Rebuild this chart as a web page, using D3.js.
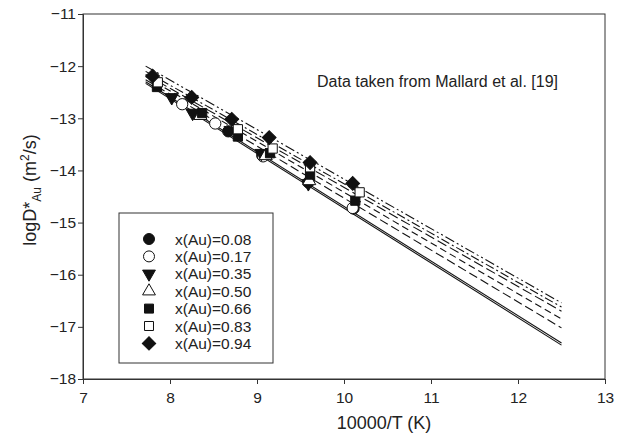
<!DOCTYPE html>
<html>
<head>
<meta charset="utf-8">
<script src="https://cdn.jsdelivr.net/npm/d3@7"></script>
<style>
  body { margin: 0; background: #fff; }
  svg text { font-family: "Liberation Sans", Arial, sans-serif; fill: #222; }
</style>
</head>
<body>
<div id="chart"></div>
<script>
// compositions in the legend
const compositions = ['0.08', '0.17', '0.35', '0.50', '0.66', '0.83', '0.94'];
const symbols = ['circleFill', 'circleOpen', 'triDown', 'triOpen', 'squareFill', 'squareOpen', 'diamond'];

// measured points, per composition: [10000/T, logD]
const pts008 = [[8.67, -13.25], [9.06, -13.71], [9.59, -14.23], [10.11, -14.73]];
const pts017 = [[8.14, -12.73], [8.52, -13.10], [9.07, -13.73], [10.10, -14.72]];
const pts035 = [[8.02, -12.60], [8.26, -12.90], [9.05, -13.67], [9.59, -14.25]];
const pts050 = [[8.35, -12.95], [9.10, -13.72], [9.60, -14.20]];
const pts066 = [[7.85, -12.40], [8.37, -12.90], [8.78, -13.35], [9.15, -13.67], [9.61, -14.08], [10.13, -14.58]];
const pts083 = [[7.86, -12.31], [8.78, -13.21], [9.18, -13.58], [9.61, -13.94], [10.18, -14.42]];
const pts094 = [[7.80, -12.19], [8.25, -12.60], [8.71, -13.02], [9.14, -13.37], [9.61, -13.85], [10.10, -14.25]];
const points = [pts008, pts017, pts035, pts050, pts066, pts083, pts094];

// fitted Arrhenius lines: value at x = 7.72 and at x = 12.5
const lineX = [7.72, 12.5];
const lineStart = [-12.33, -12.30, -12.26, -12.20, -12.16, -12.10, -12.00];
const lineEnd = [-17.35, -17.31, -17.02, -16.85, -16.70, -16.62, -16.54];
const lineDash = ['', '', '9,4', '7,4', '10,4', '9,3,2,3', '10,3,2,3,2,3'];

const xTicks = [7, 8, 9, 10, 11, 12, 13];
const yTicks = [-11, -12, -13, -14, -15, -16, -17, -18];

const margin = {l: 83, r: 12, t: 14, b: 64};
const W = 617, H = 443;
const w = W - margin.l - margin.r;
const h = H - margin.t - margin.b;

const svg = d3.select('#chart').append('svg')
  .attr('width', W).attr('height', H);

const plot = svg.append('g')
  .attr('transform', `translate(${margin.l},${margin.t})`);

const x = d3.scaleLinear().domain([7, 13]).range([0, w]);
const y = d3.scaleLinear().domain([-18, -11]).range([h, 0]);

// frame
plot.append('rect')
  .attr('width', w).attr('height', h)
  .attr('fill', 'none').attr('stroke', '#333').attr('stroke-width', 1);

const xAxis = plot.append('g')
  .attr('transform', `translate(0,${h})`)
  .call(d3.axisBottom(x).tickValues(xTicks).tickSize(5).tickFormat(d3.format('d')));
const yAxis = plot.append('g')
  .call(d3.axisLeft(y).tickValues(yTicks).tickSize(5).tickFormat(d3.format('d')));

[xAxis, yAxis].forEach(function(a){
  a.select('.domain').attr('stroke', '#333');
  a.selectAll('.tick line').attr('stroke', '#333');
  a.selectAll('.tick text').style('font-size', '15.5px').attr('fill', '#222');
});
xAxis.selectAll('.tick text').attr('dy', '1.0em');
yAxis.selectAll('.tick text').attr('x', -7);

// lines
const lineGen = d3.line().x(d => x(d[0])).y(d => y(d[1]));
plot.append('g').selectAll('path')
  .data(compositions)
  .join('path')
  .attr('d', (d, i) => lineGen([[lineX[0], lineStart[i]], [lineX[1], lineEnd[i]]]))
  .attr('fill', 'none')
  .attr('stroke', '#111')
  .attr('stroke-width', 1.1)
  .attr('stroke-dasharray', (d, i) => lineDash[i]);

// markers
function drawSymbol(g, kind, s) {
  const open = kind.indexOf('Open') >= 0;
  let type = d3.symbolCircle, size = 100;
  if (kind.startsWith('tri')) { type = d3.symbolTriangle; size = 75; }
  if (kind.startsWith('square')) { type = d3.symbolSquare; size = 85; }
  if (kind === 'diamond') { type = d3.symbolSquare; size = 95; }
  const p = g.append('path')
    .attr('d', d3.symbol().type(type).size(size * s)())
    .attr('fill', open ? '#fff' : '#111')
    .attr('stroke', '#111')
    .attr('stroke-width', 1);
  if (kind === 'triDown') p.attr('transform', 'rotate(180)');
  if (kind === 'diamond') p.attr('transform', 'rotate(45)');
  return p;
}

points.forEach(function(series, i){
  const g = plot.append('g').attr('class', 'series');
  series.forEach(function(p){
    const m = g.append('g').attr('transform', `translate(${x(p[0])},${y(p[1])})`);
    drawSymbol(m, symbols[i], 1);
  });
});

// annotation
plot.append('text')
  .attr('x', 558 - margin.l).attr('y', 87 - margin.t)
  .attr('text-anchor', 'end')
  .style('font-size', '16px')
  .text('Data taken from Mallard et al. [19]');

// legend
const legend = svg.append('g').attr('transform', 'translate(119,213)');
legend.append('rect')
  .attr('width', 154).attr('height', 150)
  .attr('fill', '#fff').attr('stroke', '#333');
compositions.forEach(function(c, i){
  const row = legend.append('g').attr('transform', `translate(30,${26 + i * 17.4})`);
  drawSymbol(row, symbols[i], 0.95);
  row.append('text')
    .attr('x', 26).attr('y', 5.5)
    .style('font-size', '15.5px')
    .text(`x(Au)=${c}`);
});

// axis titles
svg.append('text')
  .attr('x', 384).attr('y', 429)
  .attr('text-anchor', 'middle')
  .style('font-size', '18px')
  .text('10000/T (K)');

const yt = svg.append('text')
  .attr('transform', `translate(36,190) rotate(-90)`)
  .attr('text-anchor', 'middle')
  .style('font-size', '18px');
yt.append('tspan').text('logD*');
yt.append('tspan').attr('dy', 5).style('font-size', '12px').text('Au');
yt.append('tspan').attr('dy', -5).text(' (m');
yt.append('tspan').attr('dy', -7).style('font-size', '12px').text('2');
yt.append('tspan').attr('dy', 7).text('/s)');
</script>
</body>
</html>
